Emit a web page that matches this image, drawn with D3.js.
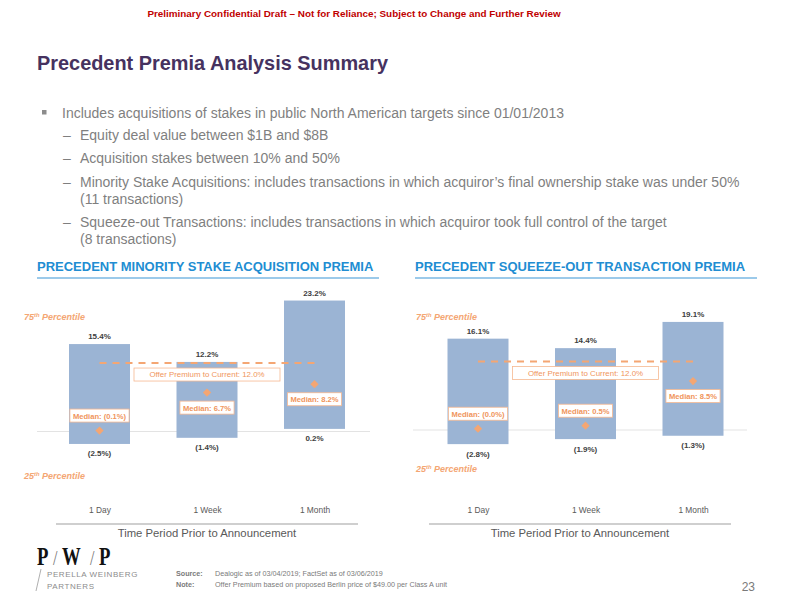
<!DOCTYPE html>
<html>
<head>
<meta charset="utf-8">
<script src="https://cdn.jsdelivr.net/npm/d3@7"></script>
<style>
  body { margin: 0; background: #fff; }
  svg { display: block; font-family: "Liberation Sans", Arial, sans-serif; }
</style>
</head>
<body>
<svg id="page" width="792" height="612"></svg>
<script>
// chart values
const periods = ['1 Day', '1 Week', '1 Month'];
const minorityP75 = [15.4, 12.2, 23.2];
const minorityP25 = [-2.5, -1.4, 0.2];
const minorityMedian = [-0.1, 6.7, 8.2];
const squeezeP75 = [16.1, 14.4, 19.1];
const squeezeP25 = [-2.8, -1.9, -1.3];
const squeezeMedian = [-0.04, 0.5, 8.5];
const offerPremium = 12.0;

const bullets = [
  'Includes acquisitions of stakes in public North American targets since 01/01/2013'
];
const subBullets = [
  ['Equity deal value between $1B and $8B'],
  ['Acquisition stakes between 10% and 50%'],
  ['Minority Stake Acquisitions: includes transactions in which acquiror\u2019s final ownership stake was under 50%', '(11 transactions)'],
  ['Squeeze-out Transactions: includes transactions in which acquiror took full control of the target', '(8 transactions)']
];

const BLUE_BAR = '#9bb4d4';
const ORANGE = '#f0955c';
const ORANGE_LIGHT = '#f4a673';
const GRAY_TXT = '#7f7f7f';

const svg = d3.select('#page');

// header
svg.append('text')
  .attr('x', 354).attr('y', 17)
  .attr('text-anchor', 'middle')
  .attr('font-size', 9.9).attr('font-weight', 'bold')
  .attr('fill', '#c00000')
  .text('Preliminary Confidential Draft \u2013 Not for Reliance; Subject to Change and Further Review');

svg.append('text')
  .attr('x', 37).attr('y', 70)
  .attr('font-size', 20.5).attr('font-weight', 'bold')
  .attr('fill', '#46325f')
  .attr('textLength', 351).attr('lengthAdjust', 'spacingAndGlyphs')
  .text('Precedent Premia Analysis Summary');

// bullets
svg.append('rect').attr('x', 42).attr('y', 110).attr('width', 4.5).attr('height', 4.5).attr('fill', '#8c8c8c');
svg.append('text')
  .attr('x', 62).attr('y', 118)
  .attr('font-size', 14).attr('fill', GRAY_TXT)
  .text(bullets[0]);

const subY = [[140], [163], [186.5, 204], [226.5, 243.5]];
subBullets.forEach((lines, i) => {
  svg.append('text')
    .attr('x', 63).attr('y', subY[i][0])
    .attr('font-size', 14).attr('fill', GRAY_TXT)
    .text('\u2013');
  lines.forEach((l, j) => {
    svg.append('text')
      .attr('x', 80).attr('y', subY[i][j])
      .attr('font-size', 14).attr('fill', GRAY_TXT)
      .text(l);
  });
});

const fmt = v => v < 0 ? `(${Math.abs(v).toFixed(1)}%)` : `${v.toFixed(1)}%`;

function drawChart(cfg) {
  const g = svg.append('g');

  g.append('text')
    .attr('x', cfg.titleX).attr('y', 271)
    .attr('font-size', 13).attr('font-weight', 'bold')
    .attr('fill', '#218dd2')
    .text(cfg.title);
  g.append('line')
    .attr('x1', cfg.titleX).attr('x2', cfg.titleX + 342)
    .attr('y1', 278).attr('y2', 278)
    .attr('stroke', '#3b96d6').attr('stroke-width', 1.2);

  const x = d3.scalePoint().domain(periods).range(cfg.xRange);
  const y = d3.scaleLinear().domain([0, 10]).range([cfg.zeroY, cfg.zeroY - 55.8]);
  const bw = 61;

  // zero gridline
  g.append('line')
    .attr('x1', cfg.gridX[0]).attr('x2', cfg.gridX[1])
    .attr('y1', y(0) + 1.5).attr('y2', y(0) + 1.5)
    .attr('stroke', '#e3e3e3').attr('stroke-width', 1);

  const rows = periods.map((p, i) => ({ p, hi: cfg.p75[i], lo: cfg.p25[i], med: cfg.median[i] }));

  g.selectAll('.bar').data(rows).enter().append('rect')
    .attr('x', d => x(d.p) - bw / 2)
    .attr('y', d => y(d.hi))
    .attr('width', bw)
    .attr('height', d => y(d.lo) - y(d.hi))
    .attr('fill', BLUE_BAR);

  g.selectAll('.top').data(rows).enter().append('text')
    .attr('x', d => x(d.p)).attr('y', d => y(d.hi) - 5)
    .attr('text-anchor', 'middle').attr('font-size', 8).attr('font-weight', 'bold')
    .attr('fill', '#404040').text(d => fmt(d.hi));
  g.selectAll('.bot').data(rows).enter().append('text')
    .attr('x', d => x(d.p)).attr('y', d => y(d.lo) + 12.5)
    .attr('text-anchor', 'middle').attr('font-size', 8).attr('font-weight', 'bold')
    .attr('fill', '#404040').text(d => fmt(d.lo));

  // offer premium dashed line + box
  const oy = y(offerPremium);
  g.append('line')
    .attr('x1', x(periods[0])).attr('x2', x(periods[2]))
    .attr('y1', oy).attr('y2', oy)
    .attr('stroke', ORANGE_LIGHT).attr('stroke-width', 2)
    .attr('stroke-dasharray', '7,6');
  const cx = x(periods[1]);
  g.append('rect')
    .attr('x', cx - 73).attr('y', oy + 5)
    .attr('width', 146).attr('height', 13)
    .attr('fill', '#fff').attr('stroke', '#f6b891').attr('stroke-width', 0.8);
  g.append('text')
    .attr('x', cx).attr('y', oy + 14.3)
    .attr('text-anchor', 'middle').attr('font-size', 7.9)
    .attr('fill', ORANGE)
    .text(`Offer Premium to Current: ${offerPremium.toFixed(1)}%`);

  // medians
  const diamond = d3.symbol().type(d3.symbolSquare).size(34);
  g.selectAll('.med').data(rows).enter().append('path')
    .attr('d', diamond)
    .attr('transform', d => `translate(${x(d.p)},${y(d.med)}) rotate(45)`)
    .attr('fill', ORANGE_LIGHT);

  const lab = g.selectAll('.mlab').data(rows).enter().append('g')
    .attr('transform', d => {
      const above = d.med < 2;
      return `translate(${x(d.p)},${above ? y(d.med) - 21.5 : y(d.med) + 8.5})`;
    });
  lab.append('text')
    .attr('x', 0).attr('y', 9.6)
    .attr('text-anchor', 'middle').attr('font-size', 7.6).attr('font-weight', 'bold')
    .attr('fill', ORANGE)
    .text(d => `Median: ${fmt(d.med)}`);
  lab.each(function () {
    const t = d3.select(this).select('text').node();
    const w = t.getComputedTextLength() + 6;
    d3.select(this).insert('rect', 'text')
      .attr('x', -w / 2).attr('y', 0)
      .attr('width', w).attr('height', 13)
      .attr('fill', '#fff').attr('stroke', '#f6b891').attr('stroke-width', 0.8);
  });

  // percentile labels
  [['75', cfg.p75LabelY], ['25', cfg.p25LabelY]].forEach(([n, ly]) => {
    const t = g.append('text')
      .attr('x', cfg.pctX).attr('y', ly)
      .attr('font-size', 9).attr('font-weight', 'bold').attr('font-style', 'italic')
      .attr('fill', ORANGE_LIGHT);
    t.append('tspan').text(n);
    t.append('tspan').attr('dy', -3).attr('font-size', 5.8).text('th');
    t.append('tspan').attr('dy', 3).text(' Percentile');
  });

  // category axis
  const axis = g.append('g').attr('transform', 'translate(0,513)')
    .call(d3.axisBottom(x).tickSize(0).tickPadding(0));
  axis.select('.domain').remove();
  axis.selectAll('text')
    .attr('font-family', '"Liberation Sans", Arial, sans-serif')
    .attr('font-size', 8.4).attr('fill', '#595959').attr('dy', 0);

  g.append('line')
    .attr('x1', cfg.axisX[0]).attr('x2', cfg.axisX[1])
    .attr('y1', 524).attr('y2', 524)
    .attr('stroke', '#bfbfbf').attr('stroke-width', 1.5);
  g.append('text')
    .attr('x', (cfg.axisX[0] + cfg.axisX[1]) / 2).attr('y', 537)
    .attr('text-anchor', 'middle').attr('font-size', 11.3).attr('fill', '#595959')
    .text('Time Period Prior to Announcement');
}

drawChart({
  title: 'PRECEDENT MINORITY STAKE ACQUISITION PREMIA',
  titleX: 37, xRange: [99.5, 314.5], zeroY: 430, gridX: [37, 370],
  p75: minorityP75, p25: minorityP25, median: minorityMedian,
  pctX: 24, p75LabelY: 320, p25LabelY: 479, axisX: [56, 358]
});
drawChart({
  title: 'PRECEDENT SQUEEZE-OUT TRANSACTION PREMIA',
  titleX: 415, xRange: [478, 693], zeroY: 428.5, gridX: [413, 747],
  p75: squeezeP75, p25: squeezeP25, median: squeezeMedian,
  pctX: 416, p75LabelY: 320, p25LabelY: 472, axisX: [429, 731]
});

// footer
const logo = svg.append('g').attr('transform', 'translate(37,565)');
[['P', 0, 1], ['/', 16, 0], ['W', 25, 1], ['/', 53, 0], ['P', 62, 1]].forEach(([c, dx, bold]) => {
  logo.append('text')
    .attr('x', 0).attr('y', 0)
    .attr('font-family', '"Liberation Serif", "DejaVu Serif", serif')
    .attr('font-size', bold ? 26 : 20).attr('font-weight', bold ? 'bold' : 'normal')
    .attr('fill', bold ? '#111' : '#777')
    .attr('transform', `translate(${dx},0) scale(${bold ? 0.72 : 0.8},1)`)
    .text(c);
});
svg.append('line').attr('x1', 41).attr('y1', 569).attr('x2', 36).attr('y2', 591)
  .attr('stroke', '#9a9a9a').attr('stroke-width', 0.8);
svg.append('text').attr('x', 47).attr('y', 577).attr('font-size', 8).attr('letter-spacing', 0.6)
  .attr('fill', '#8c8c8c').text('PERELLA WEINBERG');
svg.append('text').attr('x', 47).attr('y', 589).attr('font-size', 8).attr('letter-spacing', 0.6)
  .attr('fill', '#8c8c8c').text('PARTNERS');

[['Source:', 'Dealogic as of 03/04/2019; FactSet as of 03/06/2019', 576],
 ['Note:', 'Offer Premium based on proposed Berlin price of $49.00 per Class A unit', 587]].forEach(([k, v, yy]) => {
  svg.append('text').attr('x', 176).attr('y', yy).attr('font-size', 7.2).attr('font-weight', 'bold')
    .attr('fill', '#7a7a7a').text(k);
  svg.append('text').attr('x', 215).attr('y', yy).attr('font-size', 7.2)
    .attr('fill', '#7a7a7a').text(v);
});
svg.append('text').attr('x', 755).attr('y', 591).attr('text-anchor', 'end')
  .attr('font-size', 12).attr('fill', '#7a7a7a').text('23');
</script>
</body>
</html>
